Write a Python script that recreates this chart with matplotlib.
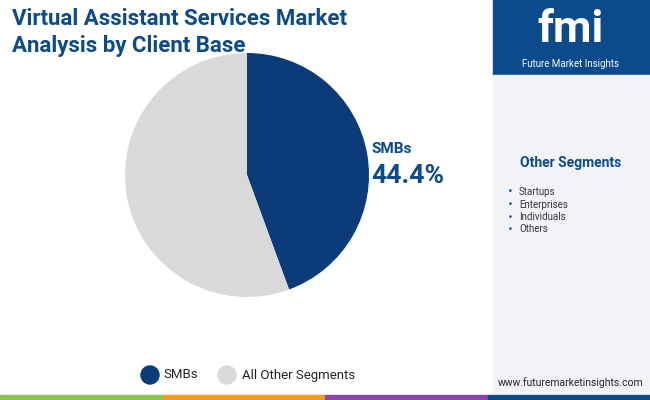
import matplotlib.pyplot as plt
from matplotlib.patches import Rectangle

# Data
labels = ["SMBs", "All Other Segments"]
shares = [44.4, 55.6]
colors = ["#0b3b78", "#d9d9d9"]
other_segments = ["Startups", "Enterprises", "Individuals", "Others"]

navy = "#0b4a8b"

fig = plt.figure(figsize=(6.5, 4), dpi=100)
fig.patch.set_facecolor("white")

def px(x, y, w, h):
    return (x / 650, 1 - (y + h) / 400, w / 650, h / 400)

bg = fig.add_axes([0, 0, 1, 1])
bg.set_xlim(0, 650)
bg.set_ylim(400, 0)
bg.axis("off")
bg.add_patch(Rectangle((493, 0), 157, 75, color=navy))
bg.add_patch(Rectangle((493, 75), 157, 318, color="#f1f3f6"))
stripe = ["#8bc34a", "#f39c12", "#8e44ad", "#0b4a8b"]
for i, c in enumerate(stripe):
    bg.add_patch(Rectangle((i * 162.5, 395), 162.5, 5, color=c))

# Title
bg.text(12, 19, "Virtual Assistant Services Market", fontsize=16, fontweight="bold",
        color=navy, va="center", family="Roboto")
bg.text(12, 46, "Analysis by Client Base", fontsize=16, fontweight="bold",
        color=navy, va="center", family="Roboto")

# Logo
bg.text(571, 30, "fmi", fontsize=32, fontweight="bold", color="white",
        ha="center", va="center", family="Roboto")
bg.text(571, 64, "Future Market Insights", fontsize=7, color="white",
        ha="center", va="center", family="Roboto")

# Other segments panel
bg.text(571, 163, "Other Segments", fontsize=10, fontweight="bold", color=navy,
        ha="center", va="center", family="Roboto")
for i, s in enumerate(other_segments):
    y = 192 + i * 12.5
    bg.text(508, y, "•", fontsize=6, color=navy, va="center")
    bg.text(519, y, s, fontsize=7, color="#333333", va="center", family="Roboto")
bg.text(571, 383, "www.futuremarketinsights.com", fontsize=7.5, color="#222222",
        ha="center", va="center", family="Roboto")

# Pie
ax = fig.add_axes(px(125, 53, 244, 244))
ax.pie(shares, colors=colors, startangle=90, counterclock=False,
       wedgeprops=dict(linewidth=0))
ax.set_xlim(-1, 1)
ax.set_ylim(-1, 1)
ax.set_aspect("equal")

# Annotation
bg.annotate("", xy=(368, 158), xytext=(346, 158),
            arrowprops=dict(arrowstyle="-|>", color=navy, lw=1.5, mutation_scale=12))
bg.text(372, 149, labels[0], fontsize=11, fontweight="bold", color=navy,
        va="center", family="Roboto")
bg.text(371, 176, f"{shares[0]}%", fontsize=19, fontweight="bold", color=navy,
        va="center", family="Roboto")

# Legend
bg.add_patch(plt.Circle((150, 375), 9, color=colors[0]))
bg.text(164, 375, labels[0], fontsize=9.5, va="center", color="#222222", family="Roboto")
bg.add_patch(plt.Circle((227, 375), 9, color=colors[1]))
bg.text(242, 375, labels[1], fontsize=9.5, va="center", color="#222222", family="Roboto")

fig.savefig("out.png", dpi=100)
